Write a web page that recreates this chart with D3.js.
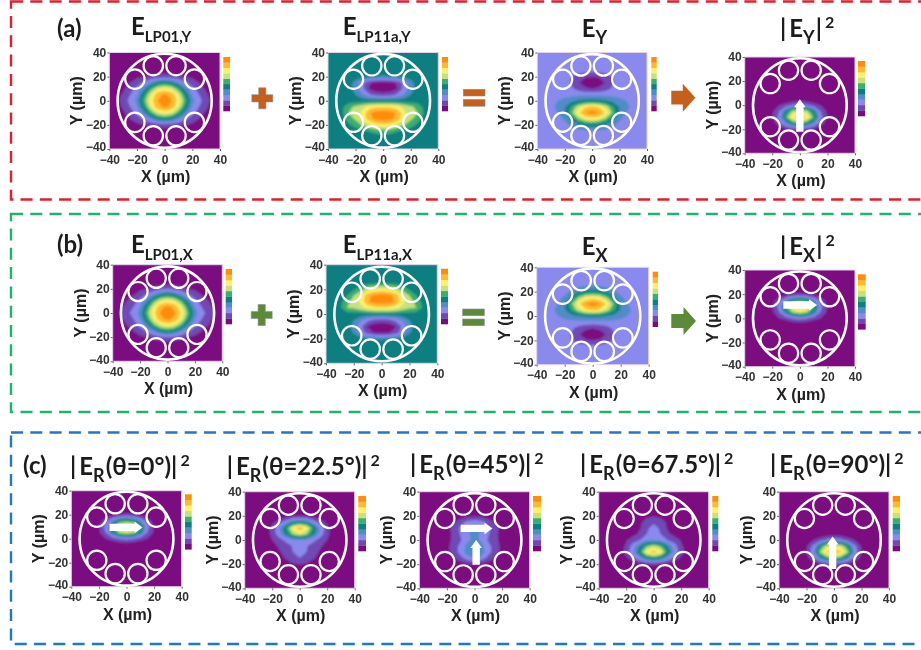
<!DOCTYPE html>
<html>
<head>
<meta charset="utf-8">
<style>
    html, body { margin: 0; background: #fff; }
    svg { display: block; filter: blur(0.35px); }
    .tick text { font: bold 12px "Liberation Sans", Arial, sans-serif; fill: #333; }
    .tick line { stroke: #666; }
    .domain { display: none; }
    .axis-label { font: bold 16px "Liberation Sans", Arial, sans-serif; fill: #222; text-anchor: middle; }
    .title { font-family: Lato, sans-serif; font-weight: 700; font-size: 24px; fill: #1c1c1c; }
    .tag { font-family: Lato, sans-serif; font-weight: 700; font-size: 24px; fill: #1c1c1c; }
</style>
</head>
<body>
<svg id="container" width="921" height="650"></svg>
<script src="https://d3js.org/d3.v7.min.js"></script>
<script>
// colour bands, low to high
const bandColors = ["#7b0a80", "#6f48b4", "#8a8aee", "#4f8cc8", "#0e7f80", "#3aae6e", "#c6e27a", "#fff06a", "#ffba2e", "#ff8c0a"]
const axisTicks = [-40, -20, 0, 20, 40]

// field levels, in colour band units
// rows are y = 30,25,...,-30 and columns are x = 0,5,...,35 (maps are mirrored in x)
const fieldA1 = [
    [0, 0, 0, 0, 0, 0, 0, 0],
    [.4, .3, .2, .1, 0, 0, 0, 0],
    [1.6, 1.5, 1.2, 1, .8, .4, .1, 0],
    [4.7, 4.3, 3.2, 2.2, 1.5, 1, .4, 0],
    [7.4, 6.9, 5.4, 3.6, 2.3, 1.6, .8, .1],
    [9.2, 8.7, 7, 4.8, 2.9, 2, 1.2, .4],
    [9.9, 9, 7.5, 5.5, 3.3, 2.3, 1.5, .6],
    [9.2, 8.7, 7, 4.8, 2.9, 2, 1.2, .4],
    [7.4, 6.9, 5.4, 3.6, 2.3, 1.6, .8, .1],
    [4.7, 4.3, 3.2, 2.2, 1.5, 1, .4, 0],
    [1.6, 1.5, 1.2, 1, .8, .4, .1, 0],
    [.4, .3, .2, .1, 0, 0, 0, 0],
    [0, 0, 0, 0, 0, 0, 0, 0]
]
const fieldA2 = [
    [4.5, 4.5, 4.5, 4.5, 4.5, 4.5, 4.5, 4.5],
    [4.5, 4.5, 4.5, 4.5, 4.5, 4.5, 4.5, 4.5],
    [3.9, 4, 4.2, 4.4, 4.5, 4.5, 4.5, 4.5],
    [.7, .8, 1.1, 2.3, 3.6, 4.5, 4.5, 4.5],
    [.3, .4, .9, 2.3, 3.6, 4.4, 4.5, 4.5],
    [1.4, 1.6, 2.2, 3.1, 4, 4.4, 4.5, 4.5],
    [4.6, 4.6, 4.5, 4.5, 4.5, 4.5, 4.5, 4.5],
    [7.8, 7.8, 7.4, 6.7, 6.2, 5.7, 4.7, 4.5],
    [9.6, 9.4, 8.9, 7.3, 6.4, 6, 4.8, 4.5],
    [9.5, 9.3, 8.7, 7.2, 6.2, 5.5, 4.6, 4.5],
    [7.8, 7.6, 6.8, 6.1, 5.4, 4.8, 4.5, 4.5],
    [5.6, 5.5, 5.1, 4.8, 4.6, 4.5, 4.5, 4.5],
    [4.5, 4.5, 4.5, 4.5, 4.5, 4.5, 4.5, 4.5]
]
const fieldA3 = [
    [2.5, 2.5, 2.5, 2.5, 2.5, 2.5, 2.5, 2.5],
    [2.3, 2.4, 2.5, 2.5, 2.5, 2.5, 2.5, 2.5],
    [1, 1.1, 1.5, 2, 2.4, 2.5, 2.5, 2.5],
    [.2, .5, 1.1, 1.9, 2.4, 2.5, 2.5, 2.5],
    [1, 1.2, 1.6, 2.2, 2.5, 2.5, 2.5, 2.5],
    [2.8, 2.8, 2.8, 2.7, 2.7, 2.6, 2.5, 2.5],
    [4.4, 4.3, 4.1, 3.7, 3.3, 3, 2.7, 2.5],
    [8.2, 7.8, 6.6, 5.2, 3.9, 3.2, 2.8, 2.5],
    [9.6, 9.1, 7.8, 5.8, 3.9, 3, 2.6, 2.5],
    [7.5, 7.1, 6, 4.4, 3.2, 2.7, 2.5, 2.5],
    [4.6, 4.4, 3.9, 3.2, 2.7, 2.5, 2.5, 2.5],
    [2.9, 2.8, 2.7, 2.6, 2.5, 2.5, 2.5, 2.5],
    [2.5, 2.5, 2.5, 2.5, 2.5, 2.5, 2.5, 2.5]
]
const fieldA4 = [
    [0, 0, 0, 0, 0, 0, 0, 0],
    [0, 0, 0, 0, 0, 0, 0, 0],
    [0, 0, 0, 0, 0, 0, 0, 0],
    [0, 0, 0, 0, 0, 0, 0, 0],
    [0, 0, 0, 0, 0, 0, 0, 0],
    [.4, .3, .1, 0, 0, 0, 0, 0],
    [2.4, 2.1, 1.4, 1, .5, 0, 0, 0],
    [7, 6.4, 4.4, 2, .8, .1, 0, 0],
    [8.6, 7.9, 5.6, 2.4, .9, .1, 0, 0],
    [5.6, 5, 3.3, 1.6, .5, 0, 0, 0],
    [1.5, 1.3, .9, .4, .1, 0, 0, 0],
    [0, 0, 0, 0, 0, 0, 0, 0],
    [0, 0, 0, 0, 0, 0, 0, 0]
]
const fieldB1 = [
    [.3, .2, .1, 0, 0, 0, 0, 0],
    [.7, .5, .3, .2, 0, 0, 0, 0],
    [2, 1.8, 1.4, 1, .8, .3, 0, 0],
    [4.9, 4.4, 3.3, 2.2, 1.5, 1, .4, .1],
    [7.5, 7, 5.6, 3.7, 2.3, 1.6, 1, .3],
    [9.2, 8.8, 7.2, 5, 3, 2, 1.4, .7],
    [9.9, 9.1, 7.7, 5.7, 3.4, 2.3, 1.7, 1],
    [9.2, 8.8, 7.2, 5, 3, 2, 1.4, .7],
    [7.5, 7, 5.6, 3.7, 2.3, 1.6, 1, .3],
    [4.9, 4.4, 3.3, 2.2, 1.5, 1, .4, .1],
    [2, 1.8, 1.4, 1, .8, .3, 0, 0],
    [.7, .5, .3, .2, 0, 0, 0, 0],
    [.3, .2, .1, 0, 0, 0, 0, 0]
]
const fieldB2 = [
    [4.5, 4.5, 4.5, 4.5, 4.5, 4.5, 4.5, 4.5],
    [5, 4.9, 4.8, 4.6, 4.5, 4.5, 4.5, 4.5],
    [7.3, 7.1, 6.5, 5.6, 4.9, 4.5, 4.5, 4.5],
    [9.5, 9.3, 8.7, 7, 6, 5, 4.5, 4.5],
    [9.6, 9.4, 8.9, 7.3, 6.4, 5.7, 4.6, 4.5],
    [7.8, 7.8, 7.3, 6.7, 6.2, 6, 4.8, 4.5],
    [4.7, 4.7, 4.7, 4.6, 4.6, 4.5, 4.5, 4.5],
    [1.5, 1.7, 2.3, 3.2, 4, 4.4, 4.5, 4.5],
    [.3, .4, .9, 2.3, 3.6, 4.4, 4.5, 4.5],
    [.7, .9, 1.4, 2.6, 3.9, 4.5, 4.5, 4.5],
    [3.9, 4, 4.1, 4.3, 4.5, 4.5, 4.5, 4.5],
    [4.5, 4.5, 4.5, 4.5, 4.5, 4.5, 4.5, 4.5],
    [4.5, 4.5, 4.5, 4.5, 4.5, 4.5, 4.5, 4.5]
]
const fieldB3 = [
    [2.5, 2.5, 2.5, 2.5, 2.5, 2.5, 2.5, 2.5],
    [3, 2.9, 2.7, 2.6, 2.5, 2.5, 2.5, 2.5],
    [4.7, 4.5, 4, 3.2, 2.7, 2.5, 2.5, 2.5],
    [7.6, 7.2, 6.1, 4.4, 3.2, 2.7, 2.5, 2.5],
    [9.6, 9.1, 7.8, 5.8, 3.9, 3, 2.6, 2.5],
    [8.2, 7.8, 6.6, 5.2, 3.9, 3.2, 2.8, 2.5],
    [4.3, 4.2, 4, 3.7, 3.3, 3, 2.7, 2.5],
    [2.7, 2.7, 2.7, 2.7, 2.7, 2.6, 2.5, 2.5],
    [1, 1.2, 1.6, 2.2, 2.5, 2.5, 2.5, 2.5],
    [.2, .5, 1.1, 1.9, 2.4, 2.5, 2.5, 2.5],
    [1, 1.1, 1.5, 2, 2.4, 2.5, 2.5, 2.5],
    [2.3, 2.4, 2.5, 2.5, 2.5, 2.5, 2.5, 2.5],
    [2.5, 2.5, 2.5, 2.5, 2.5, 2.5, 2.5, 2.5]
]
const fieldB4 = [
    [0, 0, 0, 0, 0, 0, 0, 0],
    [0, 0, 0, 0, 0, 0, 0, 0],
    [1.2, 1, .6, .2, 0, 0, 0, 0],
    [5.2, 4.8, 3.2, 1.6, .5, 0, 0, 0],
    [8.6, 7.9, 5.6, 2.4, .9, .1, 0, 0],
    [6.8, 6.2, 4.3, 2, .8, .1, 0, 0],
    [2.4, 2.1, 1.4, 1, .5, .1, 0, 0],
    [.3, .2, .1, 0, 0, 0, 0, 0],
    [0, 0, 0, 0, 0, 0, 0, 0],
    [0, 0, 0, 0, 0, 0, 0, 0],
    [0, 0, 0, 0, 0, 0, 0, 0],
    [0, 0, 0, 0, 0, 0, 0, 0],
    [0, 0, 0, 0, 0, 0, 0, 0]
]
const fieldC1 = [
    [0, 0, 0, 0, 0, 0, 0, 0],
    [0, 0, 0, 0, 0, 0, 0, 0],
    [1.3, 1.1, .6, .2, 0, 0, 0, 0],
    [5.2, 4.8, 3.2, 1.6, .5, 0, 0, 0],
    [8.6, 7.9, 5.5, 2.4, .9, .1, 0, 0],
    [6.8, 6.2, 4.3, 2, .8, .1, 0, 0],
    [2.4, 2.1, 1.4, 1, .5, .1, 0, 0],
    [.3, .2, .1, 0, 0, 0, 0, 0],
    [0, 0, 0, 0, 0, 0, 0, 0],
    [0, 0, 0, 0, 0, 0, 0, 0],
    [0, 0, 0, 0, 0, 0, 0, 0],
    [0, 0, 0, 0, 0, 0, 0, 0],
    [0, 0, 0, 0, 0, 0, 0, 0]
]
const fieldC2 = [
    [0, 0, 0, 0, 0, 0, 0, 0],
    [0, 0, 0, 0, 0, 0, 0, 0],
    [1, .9, .5, .2, 0, 0, 0, 0],
    [4.4, 3.9, 2.6, 1.5, .7, .1, 0, 0],
    [8.7, 7.5, 5, 2.9, 1.3, .3, 0, 0],
    [7, 6.1, 4.3, 2.6, 1.3, .4, 0, 0],
    [3, 2.8, 2.3, 1.6, 1, .3, 0, 0],
    [2.3, 2.1, 1.5, 1.1, .7, .1, 0, 0],
    [2.3, 2, 1.3, .9, .3, 0, 0, 0],
    [2, 1.7, 1.1, .6, .1, 0, 0, 0],
    [1, .9, .4, .1, 0, 0, 0, 0],
    [0, 0, 0, 0, 0, 0, 0, 0],
    [0, 0, 0, 0, 0, 0, 0, 0]
]
const fieldC3 = [
    [0, 0, 0, 0, 0, 0, 0, 0],
    [0, 0, 0, 0, 0, 0, 0, 0],
    [.9, .8, .4, .1, 0, 0, 0, 0],
    [2.5, 2.3, 1.6, .9, .2, 0, 0, 0],
    [3.3, 3, 2.2, 1.5, .6, 0, 0, 0],
    [3.2, 2.9, 2.1, 1.3, .5, 0, 0, 0],
    [3.3, 2.8, 1.9, 1.3, .6, 0, 0, 0],
    [3.9, 3.4, 2.3, 1.5, .7, 0, 0, 0],
    [4.1, 3.6, 2.4, 1.5, .7, 0, 0, 0],
    [3, 2.6, 1.7, 1, .3, 0, 0, 0],
    [1.1, .9, .5, .1, 0, 0, 0, 0],
    [0, 0, 0, 0, 0, 0, 0, 0],
    [0, 0, 0, 0, 0, 0, 0, 0]
]
const fieldC4 = [
    [0, 0, 0, 0, 0, 0, 0, 0],
    [0, 0, 0, 0, 0, 0, 0, 0],
    [.9, .7, .2, 0, 0, 0, 0, 0],
    [1.9, 1.5, .8, .2, 0, 0, 0, 0],
    [2.2, 1.9, .9, .3, 0, 0, 0, 0],
    [2.3, 2, 1.2, .7, .2, 0, 0, 0],
    [2.9, 2.7, 2, 1.5, .9, .1, 0, 0],
    [6.4, 5.7, 4, 2.5, 1.2, .3, 0, 0],
    [8.6, 7.6, 5, 2.9, 1.4, .4, 0, 0],
    [4.9, 4.3, 3, 1.7, .8, .1, 0, 0],
    [1.2, 1, .6, .2, 0, 0, 0, 0],
    [0, 0, 0, 0, 0, 0, 0, 0],
    [0, 0, 0, 0, 0, 0, 0, 0]
]
const fieldC5 = [
    [0, 0, 0, 0, 0, 0, 0, 0],
    [0, 0, 0, 0, 0, 0, 0, 0],
    [0, 0, 0, 0, 0, 0, 0, 0],
    [0, 0, 0, 0, 0, 0, 0, 0],
    [0, 0, 0, 0, 0, 0, 0, 0],
    [.4, .3, .1, 0, 0, 0, 0, 0],
    [2.6, 2.3, 1.6, 1, .5, 0, 0, 0],
    [7.2, 6.7, 4.9, 2.3, .9, .1, 0, 0],
    [8.8, 8.2, 6.2, 2.8, 1, .2, 0, 0],
    [5.9, 5.3, 3.6, 1.8, .6, 0, 0, 0],
    [1.5, 1.3, .9, .4, .1, 0, 0, 0],
    [0, 0, 0, 0, 0, 0, 0, 0],
    [0, 0, 0, 0, 0, 0, 0, 0]
]

// polarization arrows on the maps, in um: [x1, y1, x2, y2]
const arrowsA4 = [[0, -22, 0, 5]]
const arrowsB4 = [[-12, 11, 12.5, 11]]
const arrowsC1 = [[-12.3, 9.4, 11.6, 9.4]]
const arrowsC3 = [[-10, 9.6, 13, 9.6], [1.2, -20.6, 1.2, 0]]
const arrowsC5 = [[-1, -24, -1, 3]]

// layout: plot rect, colorbar rect, title
const panels = [
    { field: fieldA1, base: 0,   plot: [109.3, 220, 52.5, 149],   bar: [223.3, 230, 57, 111],     title: [131, 34.5, "E", "LP01,Y"] },
    { field: fieldA2, base: 4.5, plot: [328, 438.3, 52.5, 149],   bar: [442, 448, 57, 111],       title: [342.7, 34.5, "E", "LP11a,Y"] },
    { field: fieldA3, base: 2.5, plot: [537.3, 647, 52.5, 149],   bar: [651.3, 656.7, 57, 111],   title: [581.7, 36.5, "E", "Y"] },
    { field: fieldA4, base: 0,   plot: [744.7, 855, 57, 153.3],   bar: [858, 865, 61, 116],       title: [780, 37, "E", "Y", "|", "2"], arrows: arrowsA4 },
    { field: fieldB1, base: 0,   plot: [112.7, 222.3, 264.7, 361.3], bar: [225.7, 232, 269, 324], title: [131, 253.3, "E", "LP01,X"] },
    { field: fieldB2, base: 4.5, plot: [326, 437.3, 264.7, 363.3], bar: [441, 448, 268.7, 324],   title: [342.7, 253.3, "E", "LP11a,X"] },
    { field: fieldB3, base: 2.5, plot: [536.7, 648.7, 267.3, 364.7], bar: [652.7, 658, 271.7, 326.7], title: [581.7, 255, "E", "X"] },
    { field: fieldB4, base: 0,   plot: [744.7, 855, 270, 366.7],  bar: [858, 865.7, 274.3, 329.3], title: [780, 255, "E", "X", "|", "2"], arrows: arrowsB4 },
    { field: fieldC1, base: 0,   plot: [71.3, 181.7, 490.7, 586.7], bar: [185, 191.7, 494.3, 549.3], title: [70, 475, "E", "R", "(θ=0°)|", "2"], arrows: arrowsC1 },
    { field: fieldC2, base: 0,   plot: [244.7, 354.7, 491.7, 588.3], bar: [358.3, 366, 496, 551], title: [226.7, 475, "E", "R", "(θ=22.5°)|", "2"] },
    { field: fieldC3, base: 0,   plot: [419.3, 529.7, 491.7, 588.3], bar: [533, 541, 496, 551],   title: [410, 473, "E", "R", "(θ=45°)|", "2"], arrows: arrowsC3 },
    { field: fieldC4, base: 0,   plot: [598.7, 708.7, 491.7, 588.3], bar: [712.3, 718.3, 496, 551], title: [580, 473, "E", "R", "(θ=67.5°)|", "2"] },
    { field: fieldC5, base: 0,   plot: [779, 889, 491.7, 588.3],  bar: [892.7, 900, 496, 551],    title: [770, 473, "E", "R", "(θ=90°)|", "2"], arrows: arrowsC5 }
]

const capillaryAngles = [18, 54, 126, 162, 198, 234, 306, 342]
const gridXs = d3.range(-40, 41, 5)
const gridYs = d3.range(40, -41, -5)

let svg = d3.select("#container")
let defs = svg.append("defs")
defs.append("filter").attr("id", "soft")
    .attr("x", "-5%").attr("y", "-5%").attr("width", "110%").attr("height", "110%")
    .append("feGaussianBlur").attr("stdDeviation", 0.8)

// dashed frames, the right side runs off the picture
let frames = [
    { color: "#e81c2e", x: 11, y: 1.5, w: 925, h: 198 },
    { color: "#21b26e", x: 11, y: 214, w: 925, h: 198 },
    { color: "#1f78c8", x: 11, y: 432.5, w: 925, h: 211.5 }
]
svg.selectAll("rect.frame").data(frames).join("rect")
    .attr("class", "frame")
    .attr("x", d => d.x).attr("y", d => d.y)
    .attr("width", d => d.w).attr("height", d => d.h)
    .attr("fill", "none").attr("stroke", d => d.color)
    .attr("stroke-width", 2.4).attr("stroke-dasharray", "12 7.3")

panels.forEach((p, i) => drawPanel(p, i))

function expandField(p) {
    // typed window is y 30..-30, x 0..35 and everything outside is background
    let values = []
    gridYs.forEach(y => {
        gridXs.forEach(x => {
            let row = (30 - y) / 5
            let col = Math.abs(x) / 5
            let inWindow = row >= 0 && row < p.field.length && col < p.field[0].length
            values.push(inWindow ? p.field[row][col] : p.base)
        })
    })
    return values
}

function drawPanel(p, i) {
    let xScale = d3.scaleLinear().domain([-40, 40]).range([p.plot[0], p.plot[1]])
    let yScale = d3.scaleLinear().domain([-40, 40]).range([p.plot[3], p.plot[2]])
    let g = svg.append("g")

    defs.append("clipPath").attr("id", "clip" + i)
        .append("rect")
        .attr("x", xScale(-40)).attr("y", yScale(40))
        .attr("width", xScale(40) - xScale(-40)).attr("height", yScale(-40) - yScale(40))

    // Draw the map as filled contours, one per colour band
    let contours = d3.contours()
        .size([gridXs.length, gridYs.length])
        .smooth(true)
        .thresholds(d3.range(1, bandColors.length))(expandField(p))
    let project = d3.geoTransform({
        point: function (gx, gy) {
            this.stream.point(xScale((gx - 0.5) * 5 - 40), yScale(40 - (gy - 0.5) * 5))
        }
    })
    let path = d3.geoPath(project)

    let map = g.append("g").attr("clip-path", "url(#clip" + i + ")")
        .append("g").attr("filter", "url(#soft)")
    map.append("rect")
        .attr("x", xScale(-44)).attr("y", yScale(44))
        .attr("width", xScale(44) - xScale(-44)).attr("height", yScale(-44) - yScale(44))
        .attr("fill", bandColors[0])
    map.selectAll("path").data(contours).join("path")
        .attr("d", path)
        .attr("fill", d => bandColors[d.value])

    g.append("rect")
        .attr("x", xScale(-40)).attr("y", yScale(40))
        .attr("width", xScale(40) - xScale(-40)).attr("height", yScale(-40) - yScale(40))
        .attr("fill", "none").attr("stroke", "#e3d3ea").attr("stroke-width", 1)

    // Axes, the two -40 labels meet at the corner so the left one is lifted a little
    g.append("g")
        .attr("transform", "translate(0," + yScale(-40) + ")")
        .call(d3.axisBottom(xScale).tickValues(axisTicks).tickSize(2).tickPadding(4))
    g.append("g")
        .attr("transform", "translate(" + xScale(-40) + ",0)")
        .call(d3.axisLeft(yScale).tickValues(axisTicks).tickSize(2).tickPadding(1))
        .selectAll(".tick text").filter(d => d === -40).attr("y", -2)

    g.append("text").attr("class", "axis-label")
        .attr("x", xScale(0) + 1).attr("y", yScale(-40) + 33)
        .text("X (µm)")
    g.append("text").attr("class", "axis-label")
        .attr("transform", "translate(" + (xScale(-40) - 27) + "," + yScale(0) + ") rotate(-90)")
        .text("Y (µm)")

    // White fiber outline with its eight capillaries, round on the page
    let um = xScale(1) - xScale(0)
    let cx = xScale(0), cy = yScale(0)
    g.append("circle").attr("cx", cx).attr("cy", cy).attr("r", 34 * um)
        .attr("fill", "none").attr("stroke", "#fff").attr("stroke-width", 2.6)
    g.selectAll("circle.cap").data(capillaryAngles).join("circle")
        .attr("class", "cap")
        .attr("cx", d => cx + 26.6 * um * Math.sin(d * Math.PI / 180))
        .attr("cy", d => cy - 26.6 * um * Math.cos(d * Math.PI / 180))
        .attr("r", 7 * um)
        .attr("fill", "none").attr("stroke", "#fff").attr("stroke-width", 2.2)

    // Colorbar
    let barScale = d3.scaleBand().domain(d3.range(bandColors.length)).range([p.bar[3], p.bar[2]])
    g.selectAll("rect.bar").data(bandColors).join("rect")
        .attr("class", "bar")
        .attr("x", p.bar[0])
        .attr("y", (d, k) => barScale(k))
        .attr("width", p.bar[1] - p.bar[0])
        .attr("height", barScale.bandwidth() + 0.3)
        .attr("fill", d => d)

    // Polarization arrows
    ;(p.arrows || []).forEach(a => {
        g.append("path").attr("fill", "#fff")
            .attr("d", blockArrow(xScale(a[0]), yScale(a[1]), xScale(a[2]), yScale(a[3]), 3.7, 5.8, 8))
    })

    // Title, the |E|^2 ones carry a leading bar set apart from the E
    let t = p.title
    let title = g.append("text").attr("class", "title").attr("x", t[0]).attr("y", t[1])
    if (t[4]) {
        title.append("tspan").text("|")
        title.append("tspan").attr("dx", 3).text(t[2])
    } else {
        title.append("tspan").text(t[2])
    }
    title.append("tspan").attr("dy", 7).attr("font-size", t[3].length > 1 ? 15 : 18).text(t[3])
    if (t[4]) {
        title.append("tspan").attr("dy", -7).attr("dx", 1).text(t[4])
        title.append("tspan").attr("dy", -9).attr("dx", 3).attr("font-size", 16).text(t[5])
    }
}

// arrow outline pointing from (x1,y1) to (x2,y2)
function blockArrow(x1, y1, x2, y2, halfShaft, halfHead, headLen) {
    let len = Math.hypot(x2 - x1, y2 - y1)
    let ux = (x2 - x1) / len, uy = (y2 - y1) / len
    let nx = -uy, ny = ux
    let pt = (along, side) => (x1 + ux * along + nx * side) + "," + (y1 + uy * along + ny * side)
    return "M" + [
        pt(0, halfShaft), pt(len - headLen, halfShaft), pt(len - headLen, halfHead),
        pt(len, 0),
        pt(len - headLen, -halfHead), pt(len - headLen, -halfShaft), pt(0, -halfShaft)
    ].join("L") + "Z"
}

// Panel tags
let tags = [["(a)", 57, 37], ["(b)", 57, 253], ["(c)", 23, 474]]
svg.selectAll("text.tag").data(tags).join("text")
    .attr("class", "tag").attr("x", d => d[1]).attr("y", d => d[2]).text(d => d[0])

// Operators between the maps
const orange = "#c65f1c", leaf = "#5a8a3a"
function plusSign(cx, cy, color) {
    let h = 10.5, w = 3.6
    svg.append("path").attr("fill", color).attr("stroke", "#8d8d8d").attr("stroke-width", 0.6)
        .attr("d", `M${cx - w},${cy - h}H${cx + w}V${cy - w}H${cx + h}V${cy + w}H${cx + w}V${cy + h}H${cx - w}V${cy + w}H${cx - h}V${cy - w}H${cx - w}Z`)
}
function equalSign(x0, x1, y0, y1, color) {
    [y0, y1].forEach(y => {
        svg.append("rect").attr("x", x0).attr("y", y).attr("width", x1 - x0).attr("height", 6.7)
            .attr("fill", color).attr("stroke", "#8d8d8d").attr("stroke-width", 0.6)
    })
}
function bigArrow(x0, x1, cy, color) {
    svg.append("path").attr("fill", color)
        .attr("d", blockArrow(x0, cy, x1, cy, 6.9, 14, 12.5))
}
plusSign(262.3, 98.3, orange)
plusSign(261.7, 315, leaf)
equalSign(463.3, 485, 89.3, 99.5, orange)
equalSign(462.7, 484.3, 309, 319, leaf)
bigArrow(671.3, 695.3, 97.7, orange)
bigArrow(671.3, 696, 321, leaf)
</script>
</body>
</html>
